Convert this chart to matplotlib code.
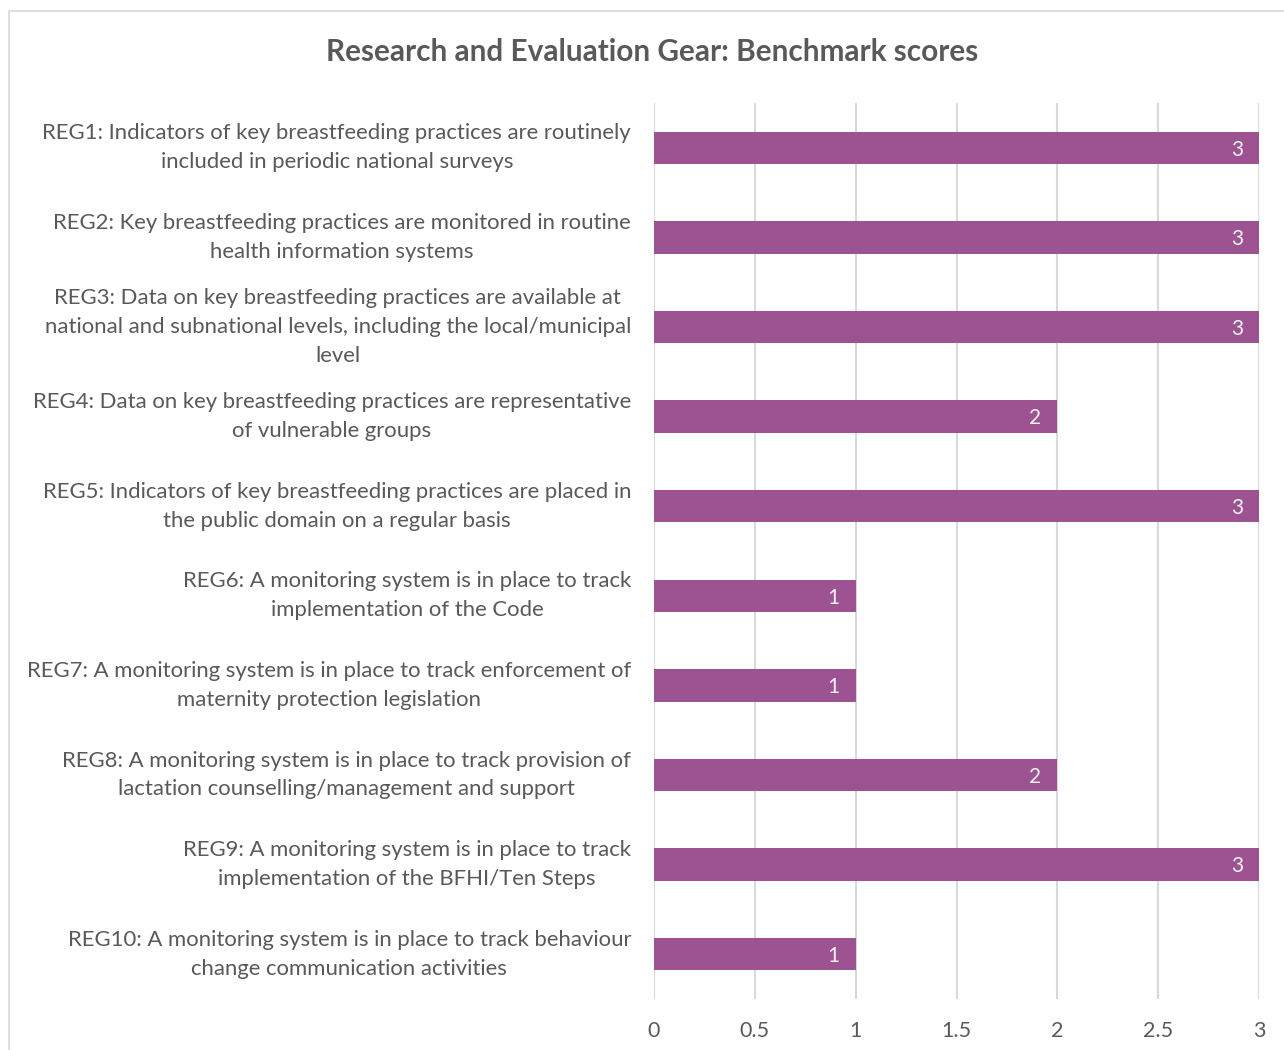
import matplotlib
matplotlib.use('Agg')
import matplotlib.pyplot as plt
from matplotlib.patches import Rectangle

plt.rcParams['font.family'] = ['Lato', 'DejaVu Sans']

TITLE = 'Research and Evaluation Gear: Benchmark scores'

LABELS = [
    'REG1: Indicators of key breastfeeding practices are routinely\nincluded in periodic national surveys',
    'REG2: Key breastfeeding practices are monitored in routine\nhealth information systems',
    'REG3: Data on key breastfeeding practices are available at\nnational and subnational levels, including the local/municipal\nlevel',
    'REG4: Data on key breastfeeding practices are representative\nof vulnerable groups',
    'REG5: Indicators of key breastfeeding practices are placed in\nthe public domain on a regular basis',
    'REG6: A monitoring system is in place to track\nimplementation of the Code',
    'REG7: A monitoring system is in place to track enforcement of\nmaternity protection legislation',
    'REG8: A monitoring system is in place to track provision of\nlactation counselling/management and support',
    'REG9: A monitoring system is in place to track\nimplementation of the BFHI/Ten Steps',
    'REG10: A monitoring system is in place to track behaviour\nchange communication activities',
]
SCORES = [3, 3, 3, 2, 3, 1, 1, 2, 3, 1]
X_TICKS = [0, 0.5, 1, 1.5, 2, 2.5, 3]
X_TICK_LABELS = ['0', '0.5', '1', '1.5', '2', '2.5', '3']

BAR_COLOR = '#9D5291'
TEXT_COLOR = '#595959'
GRID_COLOR = '#D9D9D9'

W, H = 1284, 1050
fig = plt.figure(figsize=(W / 100, H / 100), dpi=100)

# chart-area border (only top/left visible in the crop)
fig.patches.append(Rectangle((9 / W, -0.05), 1.2, 1 - 11 / H + 0.05,
                             transform=fig.transFigure, fill=False,
                             edgecolor='#D9D9D9', lw=1.2))

ax = fig.add_axes([654 / W, 1 - 999 / H, (1259 - 654) / W, (999 - 103) / H])

n = len(LABELS)
ypos = list(range(n))
ax.barh(ypos, SCORES, height=0.36, color=BAR_COLOR, zorder=3)
for y, v in zip(ypos, SCORES):
    ax.text(v - 0.08, y + 0.02, str(v), ha='right', va='center',
            color='#F2F2F2', fontsize=15, zorder=4)

ax.set_ylim(n - 0.5, -0.5)
ax.set_xlim(0, 3)
ax.set_yticks(ypos)
ax.set_yticklabels(LABELS, fontsize=15.9, color=TEXT_COLOR)
for t in ax.get_yticklabels():
    t.set_multialignment('center')
    t.set_linespacing(1.55)
    t.set_verticalalignment('center')
ax.tick_params(axis='y', length=0, pad=16.5)
ax.set_xticks(X_TICKS)
ax.set_xticklabels(X_TICK_LABELS, fontsize=15.5, color=TEXT_COLOR)
ax.tick_params(axis='x', length=0, pad=16)

for s in ax.spines.values():
    s.set_visible(False)
ax.grid(axis='x', color=GRID_COLOR, lw=1.5, zorder=0)
ax.set_axisbelow(True)

fig.text(652 / W, 1 - 52 / H, TITLE, ha='center', va='center',
         fontsize=21.4, fontweight='bold', color=TEXT_COLOR)

fig.savefig('out.png', dpi=100)
